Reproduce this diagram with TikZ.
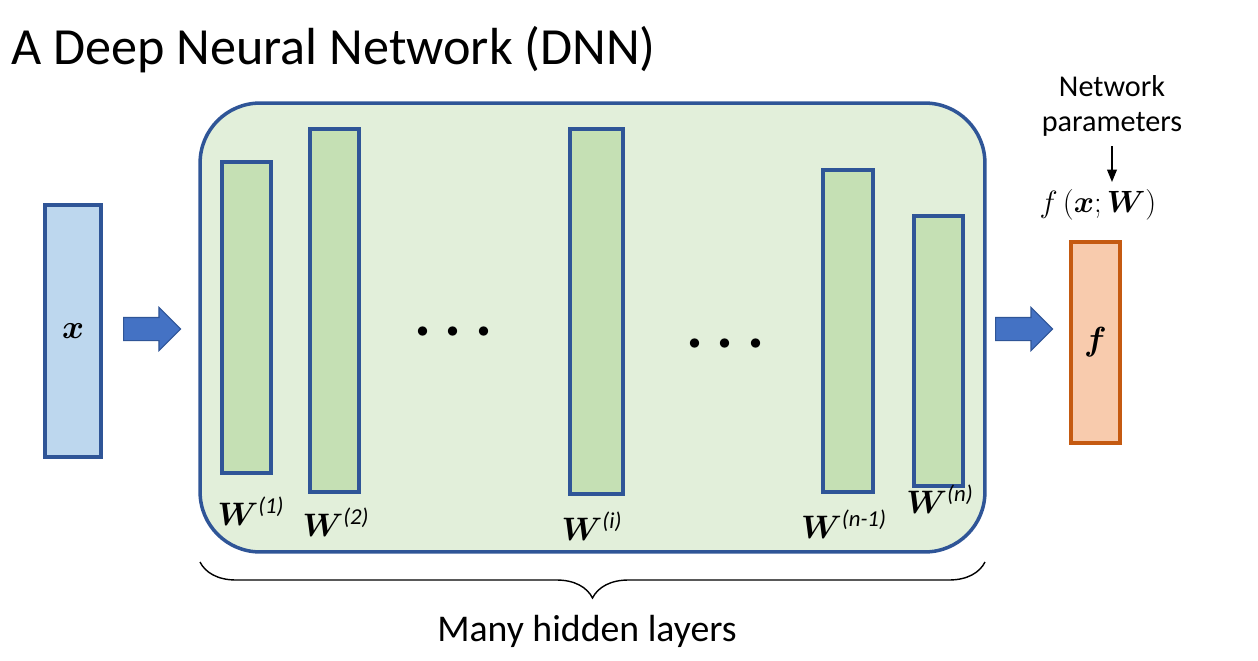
\RequirePackage{fix-cm}
\documentclass[tikz,border=0pt]{standalone}
\usepackage{amsmath}
\usepackage{bm}
\usepackage{fontspec}
\setmainfont{Carlito}
\usepackage{tikz}
\usetikzlibrary{shapes.arrows,decorations.pathreplacing,arrows.meta}
\definecolor{edgeblue}{HTML}{2F5597}
\definecolor{boxgreen}{HTML}{E2EFDA}
\definecolor{layergreen}{HTML}{C5E0B4}
\definecolor{inblue}{HTML}{BDD7EE}
\definecolor{arrowblue}{HTML}{4472C4}
\definecolor{outorange}{HTML}{F8CBAD}
\definecolor{outedge}{HTML}{C55A11}
\def\wlab#1{$\bm{W}^{\textit{(#1)}}$}

\begin{document}
\begin{tikzpicture}[x=0.02cm,y=-0.02cm]
    \tikzstyle{layer}=[draw=edgeblue,fill=layergreen,line width=1.8pt,inner sep=0pt,minimum width=0.98cm]
    \tikzstyle{bigarrow}=[single arrow,draw=edgeblue,fill=arrowblue,line width=0.6pt,anchor=tail,
      minimum height=1.14cm,single arrow head extend=0.2cm,inner xsep=0pt,inner ysep=0.22cm]
    \tikzstyle{wlabel}=[font=\fontsize{18.5}{20}\selectfont,inner sep=0pt]
    \tikzstyle{dots}=[font=\fontsize{34}{34}\selectfont,inner sep=0pt]
    \useasboundingbox (0,0) rectangle (1258,660);
    \node[anchor=base west,font=\fontsize{29.7}{34}\selectfont,inner sep=0pt] (title) at (11,64) {A Deep Neural Network (DNN)};
    % input, hidden block, output
    \node[draw=edgeblue,fill=inblue,line width=1.8pt,minimum width=1.12cm,minimum height=5.04cm,
      font=\fontsize{19}{20}\selectfont] (input) at (73,331) {$\bm{x}$};
    \node[draw=edgeblue,fill=boxgreen,line width=2pt,rounded corners=1.2cm,
      minimum width=15.7cm,minimum height=8.98cm] (hidden) at (592.5,327.5) {};
    \node[draw=outedge,fill=outorange,line width=1.8pt,minimum width=0.98cm,minimum height=4.02cm,
      font=\fontsize{19}{20}\selectfont] (output) at (1095.5,342.5) {$\bm{f}$};
    \node[bigarrow] (arrowin) at (123,329) {};
    \node[bigarrow] (arrowout) at (995,329) {};
    % layers
    \node[layer,minimum height=6.22cm] (l1) at (246.5,317.5) {};
    \node[layer,minimum height=7.26cm] (l2) at (334.5,310.5) {};
    \node[layer,minimum width=1.06cm,minimum height=7.3cm] (li) at (596.5,311.5) {};
    \node[layer,minimum width=1.0cm,minimum height=6.44cm] (lm) at (848,331) {};
    \node[layer,minimum height=5.4cm] (ln) at (938.5,351) {};
    \node[dots] (dotsA) at (459,332) {$\bm{\cdots}$};
    \node[dots] (dotsB) at (731,344) {$\bm{\cdots}$};
    \node[wlabel] (w1) at (251,511) {\wlab{1}};
    \node[wlabel] (w2) at (336,522) {\wlab{2}};
    \node[wlabel] (wi) at (592,526) {\wlab{i}};
    \node[wlabel] (wm) at (844,524) {\wlab{n-1}};
    \node[wlabel] (wn) at (940,499) {\wlab{n}};
    % parameters
    \node[align=center,font=\fontsize{17.2}{19.5}\selectfont,inner sep=0pt] (params) at (1112,106) {Network\\parameters};
    \node[font=\fontsize{17.5}{20}\selectfont,inner sep=0pt] (fxw) at (1098,205) {$f\,(\bm{x};\bm{W})$};
    \coordinate (pstart) at (1112,146);
    \coordinate (pend) at (1112,182);
    \draw[-{Triangle[length=7pt,width=5.5pt]},line width=0.8pt] (pstart) -- (pend);
    % brace
    \coordinate (braceL) at (200,562);
    \coordinate (braceR) at (985,562);
    \draw[decorate,decoration={brace,mirror,amplitude=0.72cm},line width=0.8pt] (braceL) -- (braceR);
    \node[anchor=base,font=\fontsize{21.5}{24}\selectfont] (many) at (587,641) {Many hidden layers};
\end{tikzpicture}
\end{document}
